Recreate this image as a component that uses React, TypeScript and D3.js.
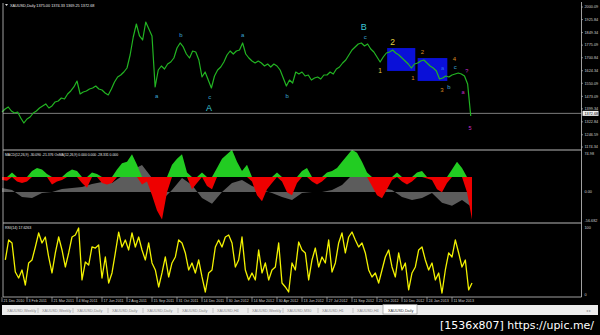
import React from 'react';
import * as d3 from 'd3';

const W = 600;
const H = 335;

// ---- price (close), one value every 4 bars ----
const priceStepBars = 4;
const priceValues = [
  1380.8, 1398.5, 1410.3, 1386.7, 1374.9, 1380.8, 1345.4, 1315.9, 1339.5, 1351.3,
  1374.9, 1386.7, 1404.4, 1416.2, 1428.0, 1404.4, 1416.2, 1439.8, 1445.7, 1463.4,
  1457.5, 1487.0, 1504.7, 1528.3, 1563.6, 1487.0, 1498.8, 1504.7, 1516.5, 1522.4,
  1534.1, 1516.5, 1510.6, 1492.9, 1481.1, 1516.5, 1557.7, 1587.2, 1599.0, 1616.7,
  1640.3, 1717.0, 1823.2, 1899.8, 1829.1, 1805.5, 1911.6, 1870.4, 1829.1, 1528.3,
  1628.5, 1652.1, 1634.4, 1663.9, 1675.7, 1699.3, 1758.3, 1787.8, 1764.2, 1722.9,
  1699.3, 1740.6, 1734.7, 1687.5, 1587.2, 1616.7, 1569.5, 1522.4, 1593.1, 1628.5,
  1646.2, 1675.7, 1717.0, 1740.6, 1722.9, 1740.6, 1746.5, 1787.8, 1722.9, 1699.3,
  1681.6, 1669.8, 1681.6, 1669.8, 1652.1, 1663.9, 1646.2, 1663.9, 1652.1, 1628.5,
  1581.3, 1534.1, 1569.5, 1551.8, 1616.7, 1604.9, 1616.7, 1593.1, 1599.0, 1569.5,
  1581.3, 1587.2, 1575.4, 1599.0, 1599.0, 1616.7, 1604.9, 1634.4, 1646.2, 1669.8,
  1687.5, 1717.0, 1746.5, 1764.2, 1781.9, 1787.8, 1770.1, 1781.9, 1752.4, 1734.7,
  1705.2, 1675.7, 1705.2, 1728.8, 1734.7, 1746.5, 1728.8, 1717.0, 1699.3, 1681.6,
  1663.9, 1640.3, 1663.9, 1669.8, 1681.6, 1687.5, 1669.8, 1652.1, 1640.3, 1622.6,
  1575.4, 1581.3, 1593.1, 1587.2, 1599.0, 1604.9, 1610.8, 1604.9, 1593.1, 1546.0,
  1357.2,
];

const priceAxisValues = [2000.09, 1925.84, 1849.34, 1775.09, 1700.84, 1624.34, 1550.09, 1473.09, 1399.34, 1322.84, 1246.59, 1174.34];
const lastPrice = 1372.68;

// ---- MACD main (gray), one value every 12.8 bars ----
const macdStepBars = 12.8;
const macdValues = [7.7, 3.8, -9.6, -11.5, -2, 0, 5.8, 7.7, 9.6, 15.4, 19.2, 17.3, 30.8, 42.3, 51.9, 26.9, -15.4, 3.8, 26.9, 13.5, -11.5, -23, 0, 17.3, 23, 11.5, 3.8, -2, -9.6, -15.4, -2, 0, 0, 3.8, 13.5, 32.7, 42.3, 26.9, 7.7, 3.8, -9.6, -15.4, -11.5, -2, -21, -27, -15.4, -30];

// ---- OsMA (green/red), one value every 6.4 bars ----
const osmaStepBars = 6.4;
const osmaValues = [-2, -2.5, 3, -3, -4, -3, 4, 6, 5, 2, -5, -3, -2, 3, 5, 4, -4, -7, 3, 2, -4, -5, -4, 5, 9, 10, 15, 8, -5, -3, -12, -22, -28, -10, 8, 12, 15, 3, -8, -4, 3, -6, -8, 6, 12, 15, 18, 10, 4, 8, -3, -12, -16, -8, -4, 3, -3, -10, -12, -4, 4, 6, -3, -5, -3, 3, 4, 6, 10, 14, 18, 16, 10, 3, -6, -12, -14, -8, -2, 3, -3, -5, -3, 3, 4, -1, -2, -8, -10, -4, 5, 10, 6, -10, -28];

// ---- RSI, one value every 4.2667 bars ----
const rsiStepBars = 4.2667;
const rsiValues = [51.5, 80.9, 76.5, 33.8, 25.0, 36.8, 14.7, 47.1, 51.5, 70.6, 91.2, 76.5, 85.3, 55.9, 32.4, 61.8, 85.3, 66.2, 41.2, 61.8, 85.3, 88.2, 98.5, 22.1, 48.5, 44.1, 70.6, 69.1, 73.5, 25.0, 55.9, 17.6, 32.4, 61.8, 92.6, 70.6, 80.9, 66.2, 91.2, 70.6, 85.3, 66.2, 51.5, 76.5, 47.1, 36.8, 11.8, 32.4, 55.9, 26.5, 47.1, 55.9, 80.9, 76.5, 61.8, 36.8, 47.1, 32.4, 51.5, 26.5, 4.4, 32.4, 36.8, 70.6, 80.9, 70.6, 85.3, 88.2, 76.5, 41.2, 51.5, 85.3, 36.8, 22.1, 32.4, 22.1, 66.2, 32.4, 47.1, 22.1, 36.8, 41.2, 76.5, 17.6, 11.8, 4.4, 47.1, 36.8, 77.9, 66.2, 61.8, 22.1, 51.5, 69.1, 41.2, 55.9, 47.1, 80.9, 33.8, 47.1, 76.5, 91.2, 61.8, 85.3, 92.6, 80.9, 70.6, 76.5, 61.8, 36.8, 26.5, 32.4, 17.6, 36.8, 55.9, 66.2, 41.2, 26.5, 61.8, 36.8, 47.1, 7.4, 32.4, 41.2, 66.2, 70.6, 51.5, 36.8, 47.1, 22.1, 32.4, 2.9, 36.8, 61.8, 55.9, 80.9, 61.8, 41.2, 51.5, 7.4, 17.6];

const dateLabels = ['21 Dec 2010', '3 Feb 2011', '21 Mar 2011', '4 May 2011', '17 Jun 2011', '2 Aug 2011', '15 Sep 2011', '31 Oct 2011', '14 Dec 2011', '30 Jan 2012', '14 Mar 2012', '30 Apr 2012', '13 Jun 2012', '27 Jul 2012', '11 Sep 2012', '25 Oct 2012', '10 Dec 2012', '24 Jan 2013', '11 Mar 2013'];
const dateTickStep = 32;

const tabLabels = ['XAUUSD,Weekly', 'XAUUSD,Weekly', 'XAUUSD,Daily', 'XAUUSD,Daily', 'XAUUSD,Daily', 'XAUUSD,Daily', 'XAUUSD,H4', 'XAUUSD,Weekly', 'XAUUSD,M30', 'XAUUSD,H1', 'XAUUSD,H4'];
const activeTab = 'XAUUSD,Daily';

// Elliott wave labels: text, bar, price, kind
const waveText = ['a', 'b', 'c', 'A', 'a', 'b', 'B', 'c', '1', '2', '1', '2', '3', '4', 'a', 'b', 'c', 'a', '?', '5'];
const waveBar = [198, 229, 266, 265, 308, 365, 463, 465, 484, 500, 526, 538, 563, 579, 564, 572, 580, 590, 595, 599];
const wavePrice = [1475, 1835, 1469, 1404, 1835, 1475, 1882, 1823, 1623, 1794, 1581, 1735, 1511, 1693, 1640, 1528, 1646, 1499, 1623, 1286];
const waveKind = ['c', 'c', 'c', 'C', 'c', 'c', 'C', 'c', 'y', 'Y', 'o', 'o', 'o', 'o', 'b', 'c', 'c', 'm', 'm', 'm'];

// boxes: [barStart, barEnd, priceTop, priceBottom]
const boxBarStart = [493, 532];
const boxBarEnd = [529, 570];
const boxPriceTop = [1758, 1699];
const boxPriceBottom = [1623, 1564];

const kindColor: Record<string, string> = { c: '#3aa6d6', C: '#3cc8d8', y: '#e0d040', Y: '#e0d040', o: '#dc8a22', b: '#2c6cf0', m: '#c82ec8' };
const kindSize: Record<string, number> = { c: 6, C: 9, y: 6.5, Y: 8.5, o: 6, b: 5.5, m: 5.5 };

export default function App() {
  const left = 3;
  const axisX = 581.5;
  const x = d3.scaleLinear().domain([0, 600]).range([2, 2 + (600 * 25) / 32]);
  const yP = d3.scaleLinear().domain([1174.34, 2000.09]).range([147, 7]);
  const yM = d3.scaleLinear().domain([-56.682, 0, 74.98]).range([221, 192, 153]);
  const yO = d3.scaleLinear().domain([0, 1]).range([177, 175.48]);
  const yR = d3.scaleLinear().domain([0, 100]).range([295, 227]);
  const tabX = d3.scaleLinear().domain([0, 10]).range([7, 357]);

  const priceLine = d3.line<number>().x((_, i) => x(i * priceStepBars)).y((d) => yP(d))(priceValues) || '';

  const macdArea = d3.area<number>().x((_, i) => x(i * macdStepBars)).y0(yM(0)).y1((d) => yM(d))(macdValues) || '';

  const osPos = d3.area<number>().x((_, i) => x(i * osmaStepBars)).y0(yO(0)).y1((d) => yO(Math.max(0, d)))(osmaValues) || '';
  const osNeg = d3.area<number>().x((_, i) => x(i * osmaStepBars)).y0(yO(0)).y1((d) => yO(Math.min(0, d)))(osmaValues) || '';

  const rsiLine = d3.line<number>().x((_, i) => x((i + 1) * rsiStepBars)).y((d) => yR(d))(rsiValues) || '';

  const font = 'Arial, "Liberation Sans", sans-serif';
  const axisFill = '#cfcfcf';

  return (
    <svg width={W} height={H} viewBox={`0 0 ${W} ${H}`} style={{ position: 'fixed', left: 0, top: 0, display: 'block' }} fontFamily={font}>
      <rect x={0} y={0} width={W} height={H} fill="#000" />

      {/* boxes */}
      {boxBarStart.map((b, i) => (
        <rect key={'bx' + i} x={x(b)} y={yP(boxPriceTop[i])} width={x(boxBarEnd[i]) - x(b)} height={yP(boxPriceBottom[i]) - yP(boxPriceTop[i])} fill="#0a10d8" />
      ))}

      {/* current price line */}
      <line x1={left} x2={axisX} y1={yP(lastPrice)} y2={yP(lastPrice)} stroke="#9a9a9a" strokeWidth={0.8} />

      {/* price line */}
      <path d={priceLine} fill="none" stroke="#22b422" strokeWidth={1.2} strokeLinejoin="round" />

      {/* wave labels */}
      {waveText.map((t, i) => (
        <text key={'w' + i} x={x(waveBar[i])} y={yP(wavePrice[i])} fill={kindColor[waveKind[i]]} fontSize={kindSize[waveKind[i]]} textAnchor="middle" dominantBaseline="central">
          {t}
        </text>
      ))}

      {/* title */}
      <path d="M5,4 L8,4 L6.5,6 Z" fill="#ddd" />
      <text x={10} y={7} fill="#e8e8e8" fontSize={3.8}>
        XAUUSD,Daily  1375.00 1374.33 1369.25 1372.68
      </text>

      {/* MACD panel */}
      <path d={macdArea} fill="#5c5c5c" />
      <path d={osPos} fill="#22cc22" />
      <path d={osNeg} fill="#ee0000" />
      <text x={5} y={156} fill="#e8e8e8" fontSize={3.4}>
        MACD(12,26,9) -30.090 -21.376 OsMA(12,26,9) 0.000 0.000 -28.331 0.000
      </text>

      {/* RSI */}
      <path d={rsiLine} fill="none" stroke="#f2f200" strokeWidth={1.3} strokeLinejoin="round" />
      <text x={5} y={229} fill="#e8e8e8" fontSize={3.6}>
        RSI(14) 17.6263
      </text>

      {/* frame */}
      <line x1={left} x2={left} y1={3} y2={297} stroke="#c8c8c8" strokeWidth={0.8} />
      <line x1={axisX} x2={axisX} y1={2} y2={297} stroke="#c8c8c8" strokeWidth={0.8} />
      <line x1={left} x2={axisX} y1={297} y2={297} stroke="#c8c8c8" strokeWidth={0.8} />
      <line x1={left} x2={axisX} y1={150} y2={150} stroke="#b8b8b8" strokeWidth={1.2} />
      <line x1={left} x2={axisX} y1={223} y2={223} stroke="#b8b8b8" strokeWidth={1.2} />

      {/* price axis */}
      {priceAxisValues.map((v) => (
        <g key={'pa' + v}>
          <line x1={axisX} x2={axisX + 1.5} y1={yP(v)} y2={yP(v)} stroke={axisFill} strokeWidth={0.6} />
          <text x={axisX + 3} y={yP(v) + 1.3} fill={axisFill} fontSize={3.8}>
            {v.toFixed(2)}
          </text>
        </g>
      ))}
      <rect x={axisX + 1} y={yP(lastPrice) - 2.5} width={16} height={5} fill="#f0f0f0" />
      <text x={axisX + 3} y={yP(lastPrice) + 1.3} fill="#000" fontSize={3.8}>
        {lastPrice.toFixed(2)}
      </text>

      {/* MACD axis */}
      <text x={axisX + 3} y={154.5} fill={axisFill} fontSize={3.8}>74.98</text>
      <text x={axisX + 3} y={yM(0) + 1.3} fill={axisFill} fontSize={3.8}>0.00</text>
      <text x={axisX + 3} y={221.5} fill={axisFill} fontSize={3.8}>-56.682</text>
      <text x={axisX + 3} y={228.5} fill={axisFill} fontSize={3.8}>100</text>
      <text x={axisX + 3} y={yR(0) + 1} fill={axisFill} fontSize={3.8}>0</text>

      {/* date axis */}
      {dateLabels.map((d, i) => (
        <g key={'d' + i}>
          <line x1={x(i * dateTickStep)} x2={x(i * dateTickStep)} y1={297} y2={302} stroke={axisFill} strokeWidth={0.6} />
          <text x={x(i * dateTickStep) + 1.5} y={301.5} fill={axisFill} fontSize={3.7}>
            {d}
          </text>
        </g>
      ))}

      {/* tab strip */}
      <rect x={2} y={305} width={596} height={10} fill="#ececec" />
      {tabLabels.map((t, i) => (
        <g key={'t' + i}>
          <text x={tabX(i)} y={311.5} fill="#8a8a8a" fontSize={3.8}>{t}</text>
          <line x1={tabX(i) + 31} x2={tabX(i) + 31} y1={308} y2={313} stroke="#999" strokeWidth={0.5} />
        </g>
      ))}
      <rect x={383} y={304.5} width={34} height={9.5} fill="#fff" stroke="#888" strokeWidth={0.6} />
      <text x={388} y={311.5} fill="#333" fontSize={3.8}>{activeTab}</text>
      <text x={586} y={311.5} fill="#999" fontSize={3.5}>◂ ▸</text>

      {/* watermark */}
      <text x={440} y={329} fill="#fff" fontSize={11} textLength={154} lengthAdjust="spacingAndGlyphs" fontFamily="'DejaVu Sans', sans-serif">
        [1536x807] https://upic.me/
      </text>
    </svg>
  );
}
